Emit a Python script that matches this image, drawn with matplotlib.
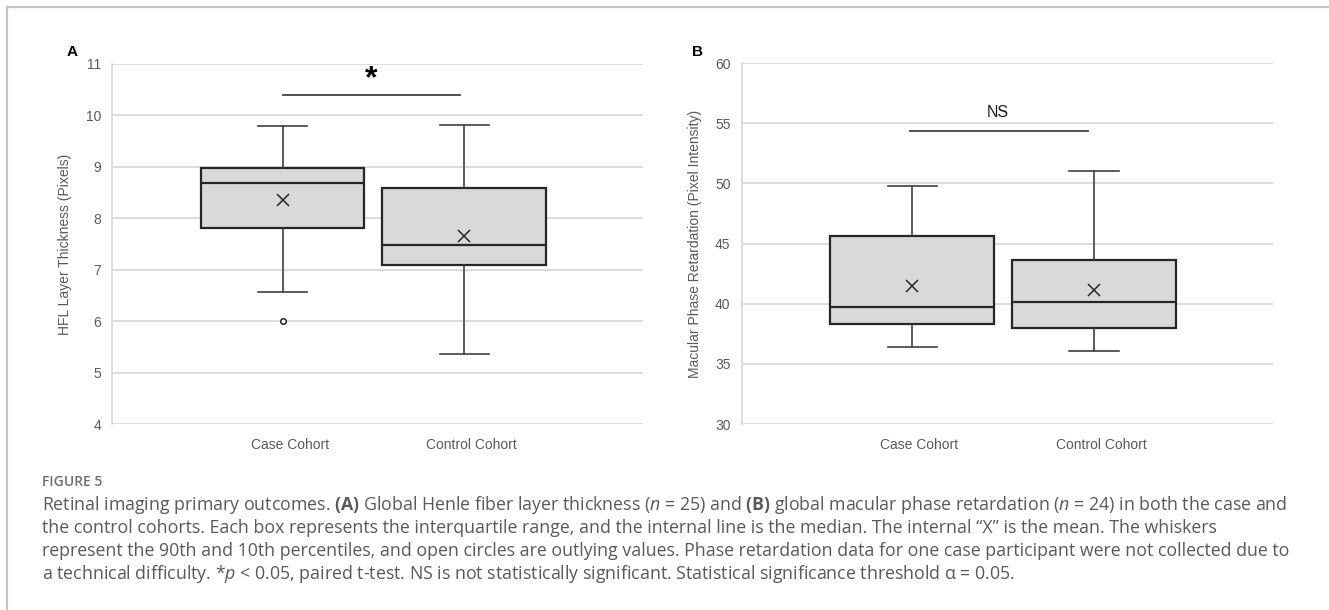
import matplotlib
matplotlib.use("Agg")
import matplotlib.pyplot as plt
from matplotlib.lines import Line2D

plt.rcParams['font.family'] = ['Liberation Sans', 'DejaVu Sans']
plt.rcParams['mathtext.fontset'] = 'custom'
plt.rcParams['mathtext.rm'] = 'Open Sans'
plt.rcParams['mathtext.it'] = 'Open Sans:italic'
plt.rcParams['mathtext.bf'] = 'Open Sans:bold'

# data
groups = ["Case Cohort", "Control Cohort"]

# A: HFL layer thickness (pixels)
hfl_whislo = [6.57, 5.37]
hfl_q1 = [7.82, 7.09]
hfl_med = [8.68, 7.49]
hfl_q3 = [8.97, 8.58]
hfl_whishi = [9.79, 9.81]
hfl_mean = [8.36, 7.65]
hfl_fliers = [[6.01], []]

# B: macular phase retardation (pixel intensity)
pr_whislo = [36.44, 36.10]
pr_q1 = [38.34, 38.00]
pr_med = [39.75, 40.10]
pr_q3 = [45.60, 43.59]
pr_whishi = [49.75, 51.00]
pr_mean = [41.50, 41.13]
pr_fliers = [[], []]

box_pos = [1, 2]
tick_color = '#595959'
grid_color = '#d9d9d9'


def make_stats(lo, q1, med, q3, hi, mean, fliers):
    stats = []
    for i in range(len(groups)):
        stats.append(dict(label=groups[i], whislo=lo[i], q1=q1[i], med=med[i],
                          q3=q3[i], whishi=hi[i], mean=mean[i], fliers=fliers[i]))
    return stats


def draw_panel(ax, stats, ylim, ystep, ylabel):
    ax.bxp(stats, positions=box_pos, widths=0.9, capwidths=0.27,
           showmeans=True, patch_artist=True,
           boxprops=dict(facecolor='#d9d9d9', edgecolor='#262626', linewidth=1.6),
           medianprops=dict(color='#262626', linewidth=1.6),
           whiskerprops=dict(color='#404040', linewidth=1.2),
           capprops=dict(color='#404040', linewidth=1.2),
           meanprops=dict(marker='x', markeredgecolor='#262626', markersize=8,
                          markeredgewidth=1.1),
           flierprops=dict(marker='o', markerfacecolor='white', markeredgecolor='#262626',
                           markersize=4, markeredgewidth=1.1))
    ax.set_xlim(0.061, 2.985)
    ax.set_ylim(*ylim)
    ax.set_yticks(range(ylim[0], ylim[1] + 1, ystep))
    ax.set_xticks([p + 0.04 for p in box_pos])
    ax.set_xticklabels(groups)
    ax.tick_params(axis='both', length=0, labelsize=10, labelcolor=tick_color)
    ax.tick_params(axis='y', pad=8)
    ax.tick_params(axis='x', pad=10)
    ax.grid(axis='y', color=grid_color, linewidth=1.3)
    ax.set_axisbelow(True)
    for s in ['top', 'right', 'bottom']:
        ax.spines[s].set_visible(False)
    ax.spines['left'].set_color(grid_color)
    ax.spines['left'].set_linewidth(1.3)
    ax.set_ylabel(ylabel, fontsize=10, color=tick_color)
    ax.yaxis.set_label_coords(-0.075, 0.5)


fig = plt.figure(figsize=(13.29, 6.10), dpi=100)

axA = fig.add_axes([0.0843, 0.3049, 0.3995, 0.5902])
draw_panel(axA, make_stats(hfl_whislo, hfl_q1, hfl_med, hfl_q3, hfl_whishi, hfl_mean, hfl_fliers),
           (4, 11), 1, "HFL Layer Thickness (Pixels)")
axA.plot([1, 1.98], [10.4, 10.4], color='#404040', linewidth=1.3)
axA.text(1.487, 10.7, "*", ha='center', va='center', fontsize=23, fontweight='bold', color='black')

axB = fig.add_axes([0.558, 0.3049, 0.3999, 0.5918])
draw_panel(axB, make_stats(pr_whislo, pr_q1, pr_med, pr_q3, pr_whishi, pr_mean, pr_fliers),
           (30, 60), 5, "Macular Phase Retardation (Pixel Intensity)")
axB.plot([0.986, 1.965], [54.33, 54.33], color='#404040', linewidth=1.3)
axB.text(1.472, 55.85, "NS", ha='center', va='center', fontsize=11.5, color='#1a1a1a')

fig.text(0.054, 0.915, "A", fontsize=11, fontweight='bold', ha='center', va='center')
fig.text(0.525, 0.915, "B", fontsize=11, fontweight='bold', ha='center', va='center')

# frame around the figure block
fig.add_artist(Line2D([0.0053, 1.0], [0.988, 0.988], color='#c4c4c4', linewidth=1.6))
fig.add_artist(Line2D([0.0053, 0.0053], [0.0, 0.988], color='#c4c4c4', linewidth=1.6))

cap_color = '#595959'
cap_font = ['Open Sans', 'DejaVu Sans']
cap_x = 42 / 1329
fig.text(cap_x, 1 - 482 / 610, "FIGURE 5", fontsize=10, color='#6e6e6e', family=cap_font,
         fontweight='semibold', va='center')
lines = [
    r"Retinal imaging primary outcomes. $\mathbf{(A)}$ Global Henle fiber layer thickness ($\mathit{n}$ = 25) and $\mathbf{(B)}$ global macular phase retardation ($\mathit{n}$ = 24) in both the case and",
    "the control cohorts. Each box represents the interquartile range, and the internal line is the median. The internal \u201cX\u201d is the mean. The whiskers",
    "represent the 90th and 10th percentiles, and open circles are outlying values. Phase retardation data for one case participant were not collected due to",
    r"a technical difficulty. *$\mathit{p}$ < 0.05, paired t-test. NS is not statistically significant. Statistical significance threshold ALPHA = 0.05.",
]
lines[3] = lines[3].replace("ALPHA", "\u03b1")
for i, ln in enumerate(lines):
    fig.text(cap_x, 1 - (505 + 23 * i) / 610, ln, fontsize=12.8, color=cap_color,
             family=cap_font, va='center')

fig.savefig("out.png", dpi=100)
